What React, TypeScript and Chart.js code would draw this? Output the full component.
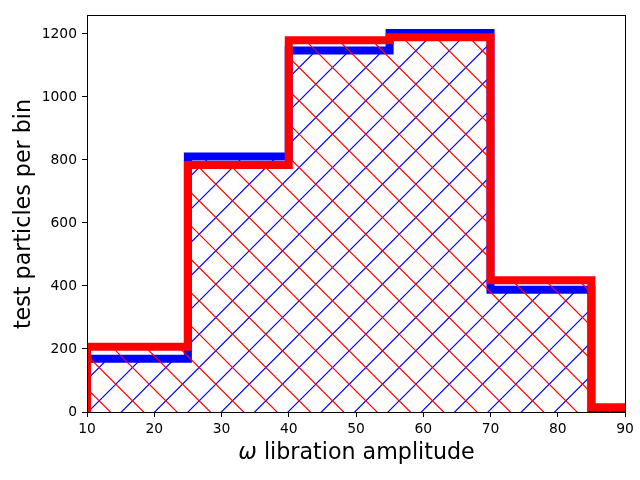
import React, { useEffect, useRef } from "react";
import { Chart, registerables } from "chart.js";

Chart.register(...registerables);

const binEdges = [10, 25, 40, 55, 70, 85, 100];
const blueCounts = [169, 811, 1147, 1203, 388, 0];
const redCounts = [207, 784, 1180, 1189, 418, 15];
const xTicks = [10, 20, 30, 40, 50, 60, 70, 80, 90];
const yTicks = [0, 200, 400, 600, 800, 1000, 1200];
const xLabelSymbol = "ω";
const xLabelText = " libration amplitude";
const yLabelText = "test particles per bin";

const FONT = '"DejaVu Sans", sans-serif';

function stepPoints(counts: number[]) {
  const last = binEdges[binEdges.length - 1];
  const pts: { x: number; y: number }[] = [{ x: binEdges[0], y: 0 }];
  counts.forEach((c, i) => pts.push({ x: binEdges[i], y: c }));
  pts.push({ x: last, y: counts[counts.length - 1] });
  pts.push({ x: last, y: 0 });
  return pts;
}

function makeHatch(ctx: CanvasRenderingContext2D, color: string, dir: string) {
  const size = 100;
  const c = document.createElement("canvas");
  c.width = size;
  c.height = size;
  const g = c.getContext("2d")!;
  g.strokeStyle = color;
  g.lineWidth = 1.2;
  const step = size / 3;
  g.beginPath();
  for (let k = -6; k <= 12; k++) {
    if (dir === "/") {
      const s = k * step;
      g.moveTo(s + 200, -200);
      g.lineTo(s - 200, 200);
    } else {
      const d = -1.67 + k * step;
      g.moveTo(d - 200, -200);
      g.lineTo(d + 200, 200);
    }
  }
  g.stroke();
  return ctx.createPattern(c, "repeat")!;
}

const framePlugin = {
  id: "frame",
  afterDatasetsDraw(chart: any) {
    const { ctx, chartArea: a } = chart;
    ctx.save();
    ctx.strokeStyle = "#000";
    ctx.lineWidth = 1;
    ctx.strokeRect(a.left + 0.5, a.top + 0.5, a.right - a.left, a.bottom - a.top);
    ctx.restore();
  },
  afterDraw(chart: any) {
    const { ctx, chartArea: a } = chart;
    ctx.save();
    ctx.fillStyle = "#000";
    ctx.textBaseline = "alphabetic";
    // x label
    const size = 22.2;
    ctx.font = `italic ${size}px ${FONT}`;
    const w1 = ctx.measureText(xLabelSymbol).width;
    ctx.font = `${size}px ${FONT}`;
    const w2 = ctx.measureText(xLabelText).width;
    const cx = (a.left + a.right) / 2 + 0.5;
    let x0 = cx - (w1 + w2) / 2;
    ctx.textAlign = "left";
    ctx.font = `italic ${size}px ${FONT}`;
    ctx.fillText(xLabelSymbol, x0, 459);
    ctx.font = `${size}px ${FONT}`;
    ctx.fillText(xLabelText, x0 + w1, 459);
    // y label
    ctx.translate(30, (a.top + a.bottom) / 2 + 0.5);
    ctx.rotate(-Math.PI / 2);
    ctx.textAlign = "center";
    ctx.fillText(yLabelText, 0, 0);
    ctx.restore();
  },
};

export default function App() {
  const ref = useRef<HTMLCanvasElement>(null);
  useEffect(() => {
    const canvas = ref.current!;
    const ctx = canvas.getContext("2d")!;
    const blueHatch = makeHatch(ctx, "#0000ff", "/");
    const redHatch = makeHatch(ctx, "#ff0000", "\\");
    const tickFont = { family: FONT, size: 13.89 };
    const chart = new Chart(canvas, {
      type: "line",
      data: {
        datasets: [
          {
            label: "red",
            data: stepPoints(redCounts),
            borderColor: "#ff0000",
            backgroundColor: redHatch,
            borderWidth: 8,
            stepped: true,
            fill: "origin",
            pointRadius: 0,
            borderJoinStyle: "miter",
            borderCapStyle: "butt",
            clip: 0,
            order: 1,
          } as any,
          {
            label: "blue",
            data: stepPoints(blueCounts),
            borderColor: "#0000ff",
            backgroundColor: blueHatch,
            borderWidth: 8,
            stepped: true,
            fill: "origin",
            pointRadius: 0,
            borderJoinStyle: "miter",
            borderCapStyle: "butt",
            clip: 0,
            order: 2,
          } as any,
        ],
      },
      options: {
        animation: false,
        responsive: false,
        parsing: true as any,
        layout: { padding: { top: 15, right: 15, left: 0, bottom: 0 } },
        plugins: {
          legend: { display: false },
          tooltip: { enabled: false },
        },
        scales: {
          x: {
            type: "linear",
            min: 10,
            max: 90,
            afterFit: (s: any) => {
              s.height = 68;
            },
            afterBuildTicks: (s: any) => {
              s.ticks = xTicks.map((v) => ({ value: v }));
            },
            ticks: {
              font: tickFont,
              color: "#000",
              padding: 4,
              maxRotation: 0,
              autoSkip: false,
              callback: (v: any) => String(v),
            },
            grid: {
              drawOnChartArea: false,
              drawTicks: true,
              tickLength: 5,
              color: "#000",
              lineWidth: 1,
            },
            border: { display: false },
          },
          y: {
            type: "linear",
            min: 0,
            max: 1260,
            afterFit: (s: any) => {
              s.width = 87;
            },
            afterBuildTicks: (s: any) => {
              s.ticks = yTicks.map((v) => ({ value: v }));
            },
            ticks: {
              font: tickFont,
              color: "#000",
              padding: 5,
              autoSkip: false,
              callback: (v: any) => String(v),
            },
            grid: {
              drawOnChartArea: false,
              drawTicks: true,
              tickLength: 5,
              color: "#000",
              lineWidth: 1,
            },
            border: { display: false },
          },
        },
      },
      plugins: [framePlugin],
    });
    return () => chart.destroy();
  }, []);
  return (
    <div style={{ position: "fixed", left: 0, top: 0, width: 640, height: 480, background: "#fff" }}>
      <canvas ref={ref} width={640} height={480} style={{ width: 640, height: 480, display: "block" }} />
    </div>
  );
}
